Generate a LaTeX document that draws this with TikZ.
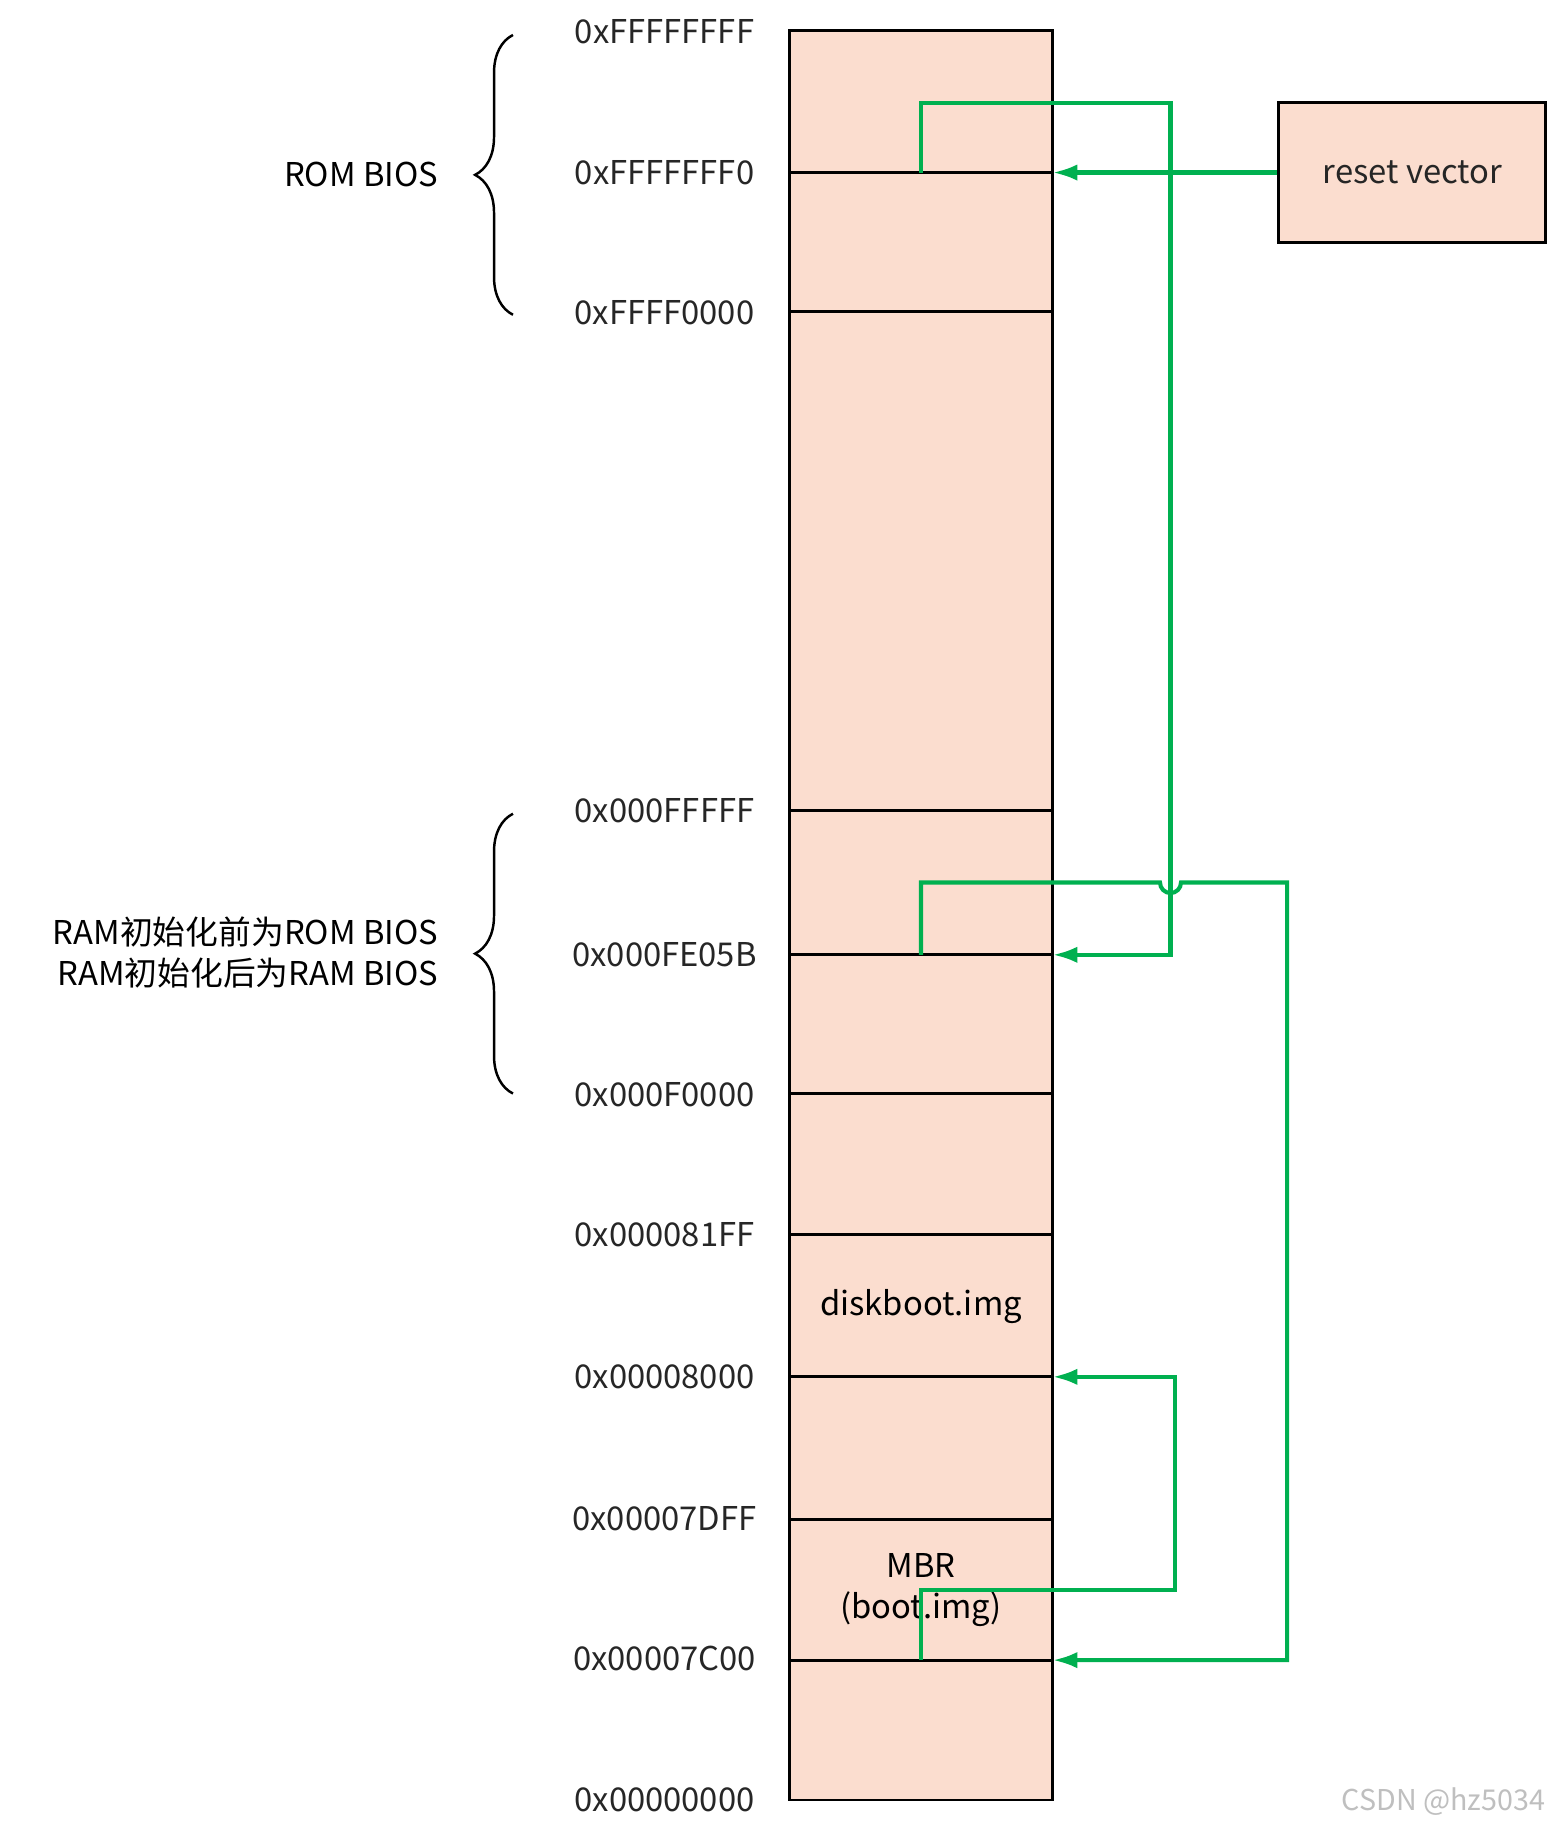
\documentclass[tikz,border=0pt]{standalone}
\usepackage{fontspec}
\setmainfont{Noto Sans CJK SC}
\usetikzlibrary{arrows.meta,decorations.pathreplacing}
\definecolor{peach}{HTML}{FBDDCF}
\definecolor{grn}{HTML}{00B050}
\begin{document}
\begin{tikzpicture}[x=0.02cm,y=-0.02cm,
  blk/.style={draw=black,line width=1.4pt,fill=peach},
  sep/.style={draw=black,line width=1.4pt},
  addr/.style={font=\fontsize{16}{18}\selectfont,text=black!85,anchor=center},
  lbl/.style={font=\fontsize{16}{20}\selectfont,text=black},
  g/.style={draw=grn,line width=2pt},
  ga/.style={g,-{Latex[length=12pt,width=8pt]}},
  br/.style={draw=black,line width=1.2pt,decorate,decoration={brace,amplitude=0.65cm,aspect=0.5}}]
\useasboundingbox (0,0) rectangle (1335,1568);
\path[blk] (677,26) rectangle (903,1544);
\foreach \y in {148,267,695,819,938,1059,1181,1303,1424}
  \draw[sep] (677,\y) -- (903,\y);
\foreach \y/\t in {27/0xFFFFFFFF,148/0xFFFFFFF0,268/0xFFFF0000,695/0x000FFFFF,819/0x000FE05B,939/0x000F0000,1059/0x000081FF,1181/0x00008000,1303/0x00007DFF,1423/0x00007C00,1544/0x00000000}
  \node[addr] at (570,\y) {\t};
\node[lbl] (disk) at (790,1121) {diskboot.img};
\node[lbl,align=center] (mbr) at (790,1364) {MBR\\(boot.img)};
\draw[br] (440,270) -- (440,30);
\draw[br] (440,938) -- (440,698);
\node[lbl,anchor=east] (rom) at (382,150) {ROM BIOS};
\node[lbl,anchor=east,align=right] (ram) at (382,817) {RAM初始化前为ROM BIOS\\RAM初始化后为RAM BIOS};
\node[blk,minimum width=229*0.02cm,minimum height=120*0.02cm,font=\fontsize{16}{18}\selectfont,text=black!85] (rv) at (1211.5,148) {reset vector};
\coordinate (a1) at (903,148);
\coordinate (a2) at (903,819);
\coordinate (a3) at (903,1424);
\coordinate (a4) at (903,1181);
\draw[ga] (rv.west) -- (a1);
\draw[ga] (790,148) -- (790,88) -- (1004,88) -- (1004,819) -- (a2);
\draw[ga] (790,819) -- (790,757) -- (995,757) arc (180:0:9) -- (1104,757) -- (1104,1424) -- (a3);
\draw[ga] (790,1424) -- (790,1364) -- (1008,1364) -- (1008,1181) -- (a4);
\node[font=\fontsize{14}{16}\selectfont,text=black!25] (wm) at (1238,1545) {CSDN @hz5034};
\end{tikzpicture}
\end{document}
